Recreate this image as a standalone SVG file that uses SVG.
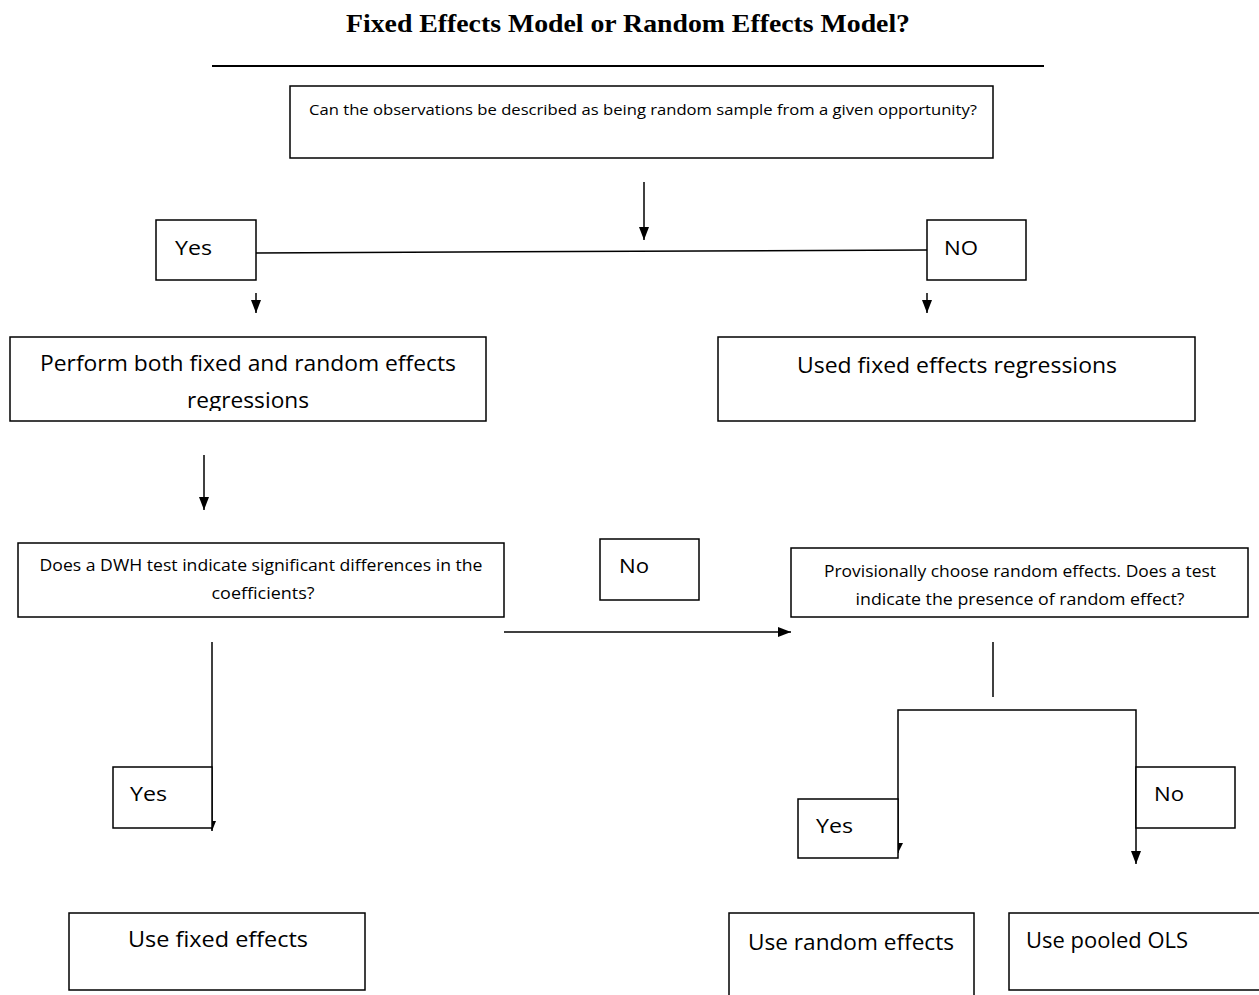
<svg xmlns="http://www.w3.org/2000/svg" width="1259" height="995" viewBox="0 0 1259 995">
<style>
.box{fill:#fff;stroke:#000;stroke-width:1.5}
.ln{fill:none;stroke:#000;stroke-width:1.5}
.t{font-family:"Open Sans","Liberation Sans",sans-serif;fill:#000}
.title{font-family:"Liberation Serif",serif;font-weight:bold;font-size:26px;fill:#000}
</style>
<defs>
<marker id="ah" markerWidth="13" markerHeight="10" refX="13" refY="5" orient="auto" markerUnits="userSpaceOnUse" viewBox="0 0 13 10">
<path d="M0,0 L13,5 L0,10 Z" fill="#000"/>
</marker>
<marker id="ahs" markerWidth="10" markerHeight="8" refX="10" refY="4" orient="auto" markerUnits="userSpaceOnUse" viewBox="0 0 10 8">
<path d="M0,0 L10,4 L0,8 Z" fill="#000"/>
</marker>
<clipPath id="clipP"><rect x="10" y="337" width="476" height="74"/></clipPath>
</defs>
<rect width="1259" height="995" fill="#fff"/>
<g id="title">
<text class="title" x="628" y="32" text-anchor="middle" textLength="564" lengthAdjust="spacingAndGlyphs">Fixed Effects Model or Random Effects Model?</text>
<line x1="212" y1="66" x2="1044" y2="66" stroke="#000" stroke-width="2"/>
</g>
<g id="connectors">
<line class="ln" x1="644" y1="182" x2="644" y2="240" marker-end="url(#ah)"/>
<line class="ln" x1="256" y1="253" x2="927" y2="250"/>
<line class="ln" x1="256" y1="293" x2="256" y2="313" marker-end="url(#ah)"/>
<line class="ln" x1="927" y1="293" x2="927" y2="313" marker-end="url(#ah)"/>
<line class="ln" x1="204" y1="455" x2="204" y2="510" marker-end="url(#ah)"/>
<line class="ln" x1="504" y1="632" x2="791" y2="632" marker-end="url(#ah)"/>
<line class="ln" x1="993" y1="642" x2="993" y2="697"/>
<line class="ln" x1="212" y1="642" x2="212" y2="831" marker-end="url(#ahs)"/>
<path class="ln" d="M898,853 L898,710 L1136,710 L1136,864" marker-end="url(#ah)"/>
</g>
<g id="q1">
<rect class="box" x="290" y="86" width="703" height="72"/>
<text class="t" x="309" y="115" font-size="15" textLength="668" lengthAdjust="spacingAndGlyphs">Can the observations be described as being random sample from a given opportunity?</text>
</g>
<g id="yes1">
<rect class="box" x="156" y="220" width="100" height="60"/>
<text class="t" x="175" y="255" font-size="20" textLength="37" lengthAdjust="spacingAndGlyphs">Yes</text>
</g>
<g id="no1">
<rect class="box" x="927" y="220" width="99" height="60"/>
<text class="t" x="944" y="255" font-size="20" textLength="34" lengthAdjust="spacingAndGlyphs">NO</text>
</g>
<g id="perform">
<rect class="box" x="10" y="337" width="476" height="84"/>
<g clip-path="url(#clipP)">
<text class="t" x="248" y="371" font-size="22" text-anchor="middle" textLength="416" lengthAdjust="spacingAndGlyphs">Perform both fixed and random effects</text>
<text class="t" x="248" y="408" font-size="22" text-anchor="middle" textLength="122" lengthAdjust="spacingAndGlyphs">regressions</text>
</g>
</g>
<g id="usedfixed">
<rect class="box" x="718" y="337" width="477" height="84"/>
<text class="t" x="957" y="373" font-size="22" text-anchor="middle" textLength="320" lengthAdjust="spacingAndGlyphs">Used fixed effects regressions</text>
</g>
<g id="dwh">
<rect class="box" x="18" y="543" width="486" height="74"/>
<text class="t" x="261" y="571" font-size="16" text-anchor="middle" textLength="443" lengthAdjust="spacingAndGlyphs">Does a DWH test indicate significant differences in the</text>
<text class="t" x="263" y="599" font-size="16" text-anchor="middle" textLength="103" lengthAdjust="spacingAndGlyphs">coefficients?</text>
</g>
<g id="no2">
<rect class="box" x="600" y="539" width="99" height="61"/>
<text class="t" x="619" y="573" font-size="20" textLength="30" lengthAdjust="spacingAndGlyphs">No</text>
</g>
<g id="prov">
<rect class="box" x="791" y="548" width="457" height="69"/>
<text class="t" x="1020" y="577" font-size="16" text-anchor="middle" textLength="392" lengthAdjust="spacingAndGlyphs">Provisionally choose random effects. Does a test</text>
<text class="t" x="1020" y="605" font-size="16" text-anchor="middle" textLength="329" lengthAdjust="spacingAndGlyphs">indicate the presence of random effect?</text>
</g>
<g id="yes2">
<rect class="box" x="113" y="767" width="99" height="61"/>
<text class="t" x="130" y="801" font-size="20" textLength="37" lengthAdjust="spacingAndGlyphs">Yes</text>
</g>
<g id="yes3">
<rect class="box" x="798" y="799" width="100" height="59"/>
<text class="t" x="816" y="833" font-size="20" textLength="37" lengthAdjust="spacingAndGlyphs">Yes</text>
<path d="M898,843 L903,843 L898,853 Z" fill="#000"/>
</g>
<g id="no3">
<rect class="box" x="1136" y="767" width="99" height="61"/>
<text class="t" x="1154" y="801" font-size="20" textLength="30" lengthAdjust="spacingAndGlyphs">No</text>
</g>
<g id="usefixed">
<rect class="box" x="69" y="913" width="296" height="77"/>
<text class="t" x="128" y="947" font-size="22" textLength="180" lengthAdjust="spacingAndGlyphs">Use fixed effects</text>
</g>
<g id="userandom">
<rect class="box" x="729" y="913" width="245" height="90"/>
<text class="t" x="748" y="950" font-size="22" textLength="206" lengthAdjust="spacingAndGlyphs">Use random effects</text>
</g>
<g id="usepooled">
<rect class="box" x="1009" y="913" width="260" height="77"/>
<text class="t" x="1026" y="948" font-size="22" textLength="162" lengthAdjust="spacingAndGlyphs">Use pooled OLS</text>
</g>
</svg>
